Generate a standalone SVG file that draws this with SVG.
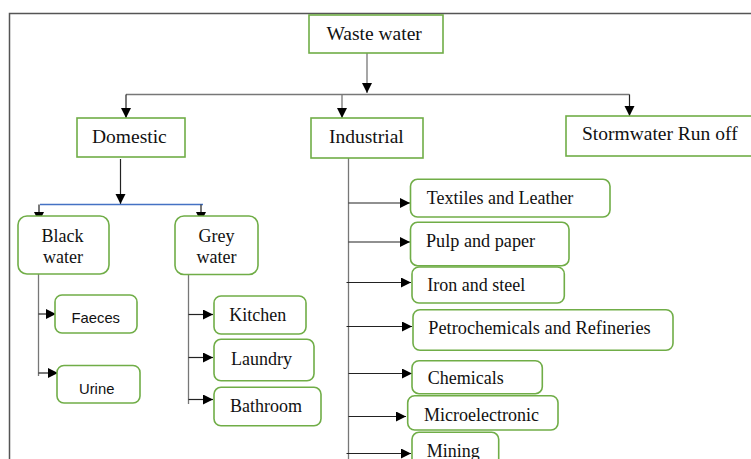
<svg xmlns="http://www.w3.org/2000/svg" width="751" height="459" viewBox="0 0 751 459">
<style>
.box{fill:#fff;stroke:#70AD47;stroke-width:1.6}
.t{font-family:"Liberation Serif","Times New Roman",serif;fill:#111}
.s{font-family:"Liberation Sans",Arial,sans-serif;fill:#111}
.ln{fill:none;stroke:#777;stroke-width:1.3}
.lk{fill:none;stroke:#222;stroke-width:1.2}
.ar{marker-end:url(#ah)}
</style>
<defs>
<marker id="ah" markerUnits="userSpaceOnUse" markerWidth="12" markerHeight="12" refX="10" refY="5" orient="auto">
<path d="M0,0 L10,5 L0,10 Z" fill="#000"/>
</marker>
</defs>
<rect width="751" height="459" fill="#fff"/>
<path d="M9.5,459 V13.5 H751" fill="none" stroke="#555" stroke-width="1.5"/>
<g id="connectors">
<path class="ln ar" d="M367,53 V93"/>
<path class="ln" d="M126,94.5 H629.5"/>
<path class="lk ar" d="M126,94.5 V118"/>
<path class="ln ar" d="M342,94.5 V118"/>
<path class="lk ar" d="M629.5,94.5 V116"/>
<path class="lk ar" d="M120.5,159 V204"/>
<path d="M40,204.5 H203" fill="none" stroke="#4472C4" stroke-width="1.3"/>
<path class="lk ar" d="M39,204.5 V222"/>
<path class="lk ar" d="M201,204.5 V222"/>
<path class="ln" d="M38.5,274 V376"/>
<path class="lk ar" d="M38.5,314 H56"/>
<path class="lk ar" d="M38.5,373 H58"/>
<path class="ln" d="M188.5,274 V404"/>
<path class="lk ar" d="M188.5,314.5 H213"/>
<path class="lk ar" d="M188.5,357.5 H213"/>
<path class="lk ar" d="M188.5,399.5 H213"/>
<path class="ln" d="M348.5,158 V459"/>
<path class="lk ar" d="M348.5,203 H410"/>
<path class="lk ar" d="M348.5,242 H410"/>
<path class="lk ar" d="M346.5,282.5 H411"/>
<path class="lk ar" d="M346.5,326.5 H412"/>
<path class="lk ar" d="M348.5,373.5 H412"/>
<path class="lk ar" d="M348.5,416.5 H406"/>
<path class="lk ar" d="M346.5,453.5 H411"/>
</g>
<g id="waste-water"><rect class="box" x="309" y="15" width="134" height="38"/><text class="t" x="326.5" y="40" font-size="19.5">Waste water</text></g>
<g id="domestic"><rect class="box" x="77" y="118" width="108" height="39"/><text class="t" x="92" y="143" font-size="19.5">Domestic</text></g>
<g id="industrial"><rect class="box" x="311" y="118" width="112" height="40"/><text class="t" x="329" y="143" font-size="19.5">Industrial</text></g>
<g id="stormwater"><rect class="box" x="566" y="116" width="190" height="40"/><text class="t" x="582" y="139.5" font-size="19.5">Stormwater Run off</text></g>
<g id="black-water"><rect class="box" x="18" y="216" width="91" height="58" rx="9"/><text class="t" x="41.5" y="242" font-size="18">Black</text><text class="t" x="43" y="263" font-size="18">water</text></g>
<g id="grey-water"><rect class="box" x="175" y="216" width="83" height="58.5" rx="9"/><text class="t" x="198.5" y="242.3" font-size="18">Grey</text><text class="t" x="196.5" y="263" font-size="18">water</text></g>
<g id="faeces"><rect class="box" x="55" y="295" width="82" height="38" rx="7"/><text class="s" x="71.5" y="323.3" font-size="14.8">Faeces</text></g>
<g id="urine"><rect class="box" x="57" y="365.5" width="83" height="37.5" rx="7"/><text class="s" x="79" y="393.7" font-size="14.8">Urine</text></g>
<g id="kitchen"><rect class="box" x="214" y="296" width="92" height="38" rx="7"/><text class="t" x="229.3" y="320.7" font-size="18">Kitchen</text></g>
<g id="laundry"><rect class="box" x="214" y="339.3" width="100" height="41.5" rx="7"/><text class="t" x="231" y="365" font-size="18">Laundry</text></g>
<g id="bathroom"><rect class="box" x="214" y="387.3" width="107" height="38.5" rx="7"/><text class="t" x="230" y="411.7" font-size="18">Bathroom</text></g>
<g id="textiles"><rect class="box" x="410.5" y="179.3" width="199.5" height="37.7" rx="7"/><text class="t" x="426.7" y="204.3" font-size="18">Textiles and Leather</text></g>
<g id="pulp"><rect class="box" x="410.5" y="222.3" width="158.5" height="43.4" rx="7"/><text class="t" x="426" y="247.3" font-size="18.2">Pulp and paper</text></g>
<g id="iron"><rect class="box" x="412" y="267" width="152.3" height="36" rx="7"/><text class="t" x="427.3" y="290.7" font-size="18">Iron and steel</text></g>
<g id="petro"><rect class="box" x="413" y="309.7" width="260" height="40.6" rx="7"/><text class="t" x="428.3" y="334.3" font-size="18.3">Petrochemicals and Refineries</text></g>
<g id="chemicals"><rect class="box" x="412" y="360.7" width="130.3" height="33" rx="7"/><text class="t" x="427.7" y="384" font-size="18">Chemicals</text></g>
<g id="microelectronic"><rect class="box" x="407.7" y="395.7" width="150.3" height="34.3" rx="7"/><text class="t" x="424" y="421" font-size="18">Microelectronic</text></g>
<g id="mining"><rect class="box" x="412" y="432.3" width="86.7" height="40" rx="7"/><text class="t" x="426.7" y="456.7" font-size="18">Mining</text></g>
</svg>
